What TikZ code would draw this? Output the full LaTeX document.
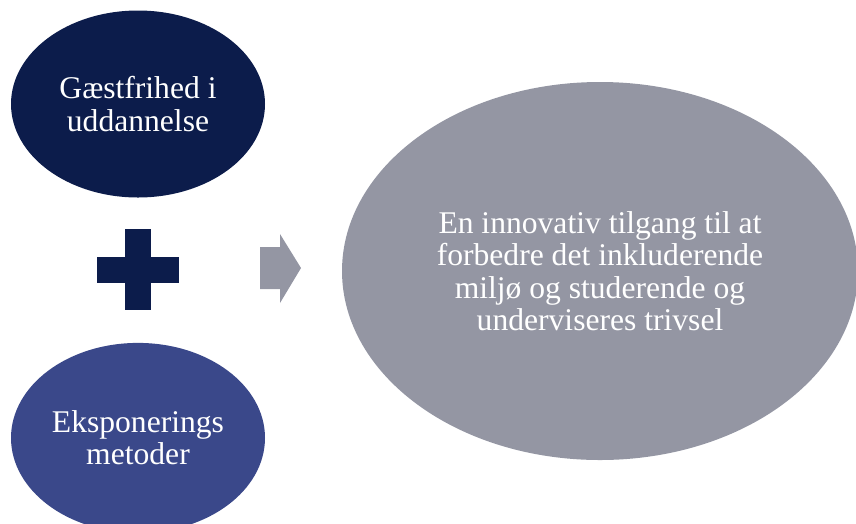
\documentclass[tikz,border=0pt]{standalone}
\usepackage{fontspec}
\setmainfont{Liberation Serif}
\usetikzlibrary{shapes.geometric, positioning}

\definecolor{navy}{HTML}{0C1C4B}
\definecolor{indigo}{HTML}{3A488A}
\definecolor{slate}{HTML}{9496A3}

\tikzset{
  blob/.style={ellipse, inner sep=0pt, align=center, text=white,
    font=\fontsize{31.6}{32.5}\selectfont},
}

\begin{document}
\begin{tikzpicture}[x=1pt, y=-1pt]
	\useasboundingbox (0,0) rectangle (856,523);
	\node[blob, fill=navy, minimum width=254pt, minimum height=187pt] (gaest) at (138,104) {Gæstfrihed i\\uddannelse};
	\node[blob, fill=indigo, minimum width=254pt, minimum height=190pt, below=145pt of gaest] (ekspo) {Eksponerings\\metoder};
	\node[blob, fill=slate, minimum width=516pt, minimum height=378pt] (maal) at (600,271) {En innovativ tilgang til at\\forbedre det inkluderende\\miljø og studerende og\\underviseres trivsel};
	% plus
	\fill[navy] (125,229) rectangle (151,310);
	\fill[navy] (97,257) rectangle (179,283);
	% arrow
	\fill[slate] (260,247) -- (280,247) -- (280,234) -- (301,268)
		-- (280,303) -- (280,289) -- (260,289) -- cycle;
\end{tikzpicture}
\end{document}
